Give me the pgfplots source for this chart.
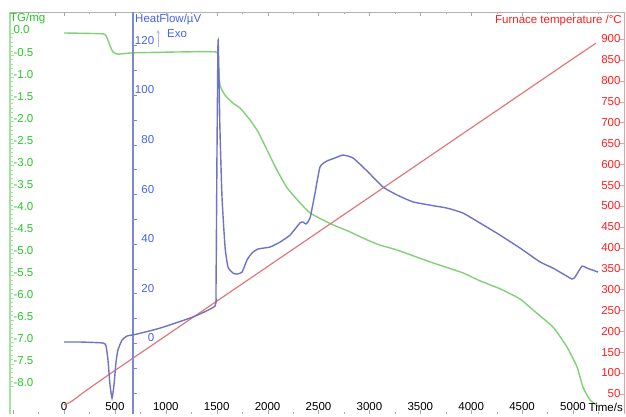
\documentclass[border=0pt]{standalone}
\usepackage{pgfplots}
\pgfplotsset{compat=1.18}
\usepackage{pgfplotstable}
\usepackage{fontspec}
\setmainfont{Liberation Sans}
\definecolor{tgline}{RGB}{130,208,120}
\definecolor{tgtext}{RGB}{40,200,40}
\definecolor{tgaxis}{RGB}{160,228,160}
\definecolor{hfline}{RGB}{110,115,195}
\definecolor{hftext}{RGB}{70,100,230}
\definecolor{hfaxis}{RGB}{125,135,210}
\definecolor{tline}{RGB}{225,120,120}
\definecolor{ttext}{RGB}{255,30,30}
\definecolor{taxis}{RGB}{235,160,160}

\pgfplotstableread{
t hf
0 0.4
157 0.4
383 0.0
413 -1.2
432 -6.9
452 -16.9
472 -22.2
491 -16.9
511 -7.7
530 -2.8
570 1.2
619 2.8
717 3.6
943 6.0
1267 10.5
1483 14.9
1493 21.4
1503 77.8
1513 121.8
1523 106
1532 85.9
1552 58.9
1582 38.7
1611 30.6
1660 28.2
1699 27.8
1749 28.6
1798 33.5
1847 36.3
1906 37.9
2024 38.7
2122 40.7
2220 43.5
2318 48.4
2348 48.8
2377 48.0
2417 50.4
2466 60.5
2515 71.0
2583 73.4
2662 74.6
2741 75.8
2839 74.6
2976 69.4
3134 62.9
3271 59.7
3428 56.9
3595 55.6
3762 54.4
3919 52.4
4086 48.4
4283 43.5
4479 38.3
4676 32.7
4804 30.2
4921 27.4
4990 25.8
5020 26.6
5088 31.0
5138 30.2
5246 28.6
}\hfdata

\pgfplotstableread{
t tg
0 0.0
383 -0.02
422 -0.11
452 -0.29
481 -0.43
530 -0.48
678 -0.45
1140 -0.43
1493 -0.43
1513 -0.61
1532 -1.18
1582 -1.41
1660 -1.59
1729 -1.70
1827 -1.97
1906 -2.24
1994 -2.65
2092 -3.11
2191 -3.51
2318 -3.85
2417 -4.08
2544 -4.24
2642 -4.35
2809 -4.51
2976 -4.69
3104 -4.81
3271 -4.92
3595 -5.19
3919 -5.44
4086 -5.62
4283 -5.80
4479 -6.03
4607 -6.28
4804 -6.67
4941 -7.12
5039 -7.57
5098 -8.03
5167 -8.32
5246 -8.46
}\tgdata

\pgfplotstableread{
t temp
0 24
60 30
120 40
200 55
500 106
1000 189
2000 355
3000 521
4000 687
5000 853
5226 890
}\tempdata

\begin{document}
\begin{tikzpicture}[x=1pt,y=1pt]
\path[use as bounding box] (0,0) rectangle (626,416);
\pgfplotsset{
  every axis/.append style={
    scale only axis, height=402pt,
    /pgf/number format/assume math mode=true,
    tick label style={font=\fontsize{11.5}{13}\selectfont},
    tick align=inside,
    major tick length=4pt, minor tick length=2.5pt,
  }
}
% TG axis (green, left)
\begin{axis}[
  at={(10pt,2pt)}, anchor=south west, width=614pt,
  xmin=-530.5, xmax=5501, ymin=-8.639, ymax=0.476,
  axis x line*=bottom, axis y line*=left,
  x axis line style={draw=none},
  xtick={-500,0,500,1000,1500,2000,2500,3000,3500,4000,4500,5000,5500},
  xticklabels={,0,500,1000,1500,2000,2500,3000,3500,4000,4500,5000,},
  minor x tick num=1,
  x tick style={gray!70},
  xticklabel style={anchor=south},
  ytick={-8,-7.5,-7,-6.5,-6,-5.5,-5,-4.5,-4,-3.5,-3,-2.5,-2,-1.5,-1,-0.5,0},
  minor y tick num=4,
  y tick style={tgaxis},
  y axis line style={tgaxis, line width=1.6pt},
  yticklabel style={anchor=west, yshift=3pt, text=tgtext,
    /pgf/number format/.cd, fixed, fixed zerofill, precision=1},
]
\addplot[tgline, line width=1.4pt, smooth, tension=0.3] table[x=t,y=tg] {\tgdata};
\node[anchor=base east, inner sep=0pt, font=\fontsize{11.5}{13}\selectfont] at (rel axis cs:1,0) [yshift=3pt, xshift=-1pt] {Time/s};
\end{axis}
% Temperature axis (red, right)
\begin{axis}[
  at={(10pt,2pt)}, anchor=south west, width=614pt,
  xmin=-530.5, xmax=5501, ymin=1.8, ymax=964.7,
  axis x line*=top, axis y line*=right,
  x axis line style={gray!60},
  xtick={-500,0,500,1000,1500,2000,2500,3000,3500,4000,4500,5000,5500},
  xticklabels={}, minor x tick num=1,
  x tick style={gray!70},
  ytick={50,100,...,900},
  y tick style={taxis},
  y axis line style={taxis, line width=1pt},
  yticklabel style={anchor=east, text=ttext},
]
\addplot[tline, line width=1.2pt, smooth] table[x=t,y=temp] {\tempdata};
\end{axis}
% HeatFlow axis (blue, inner)
\begin{axis}[
  at={(133pt,2pt)}, anchor=south west, width=491pt,
  xmin=677.8, xmax=5501, ymin=-28.63, ymax=133.47,
  clip=false,
  axis x line=none, axis y line*=left,
  ytick={-20,0,20,40,60,80,100,120},
  yticklabels={,0,20,40,60,80,100,120},
  minor y tick num=1, minor tick length=4pt,
  y tick style={hfaxis},
  y axis line style={hfaxis, line width=1.5pt},
  yticklabel style={anchor=east, xshift=24.7pt, yshift=5pt, text=hftext},
]
\addplot[hfline, line width=1.4pt, smooth, tension=0.3] table[x=t,y=hf] {\hfdata};
\end{axis}
% titles
\node[anchor=north west, inner sep=0pt, text=tgtext, font=\fontsize{11.5}{13}\selectfont] at (10,403) {TG/mg};
\node[anchor=north west, inner sep=0pt, text=hftext, font=\fontsize{11.5}{13}\selectfont] at (135,402) {HeatFlow/µV};
\node[anchor=west, inner sep=0pt, text=hftext, font=\fontsize{11.5}{13}\selectfont] at (167,382) {Exo};
\draw[hfaxis!60, ->, >=stealth, line width=0.6pt] (158,369) -- (158,386);
\node[anchor=north east, inner sep=0pt, text=ttext, font=\fontsize{11.5}{13}\selectfont] at (622,401) {Furnace temperature /°C};
\end{tikzpicture}
\end{document}
